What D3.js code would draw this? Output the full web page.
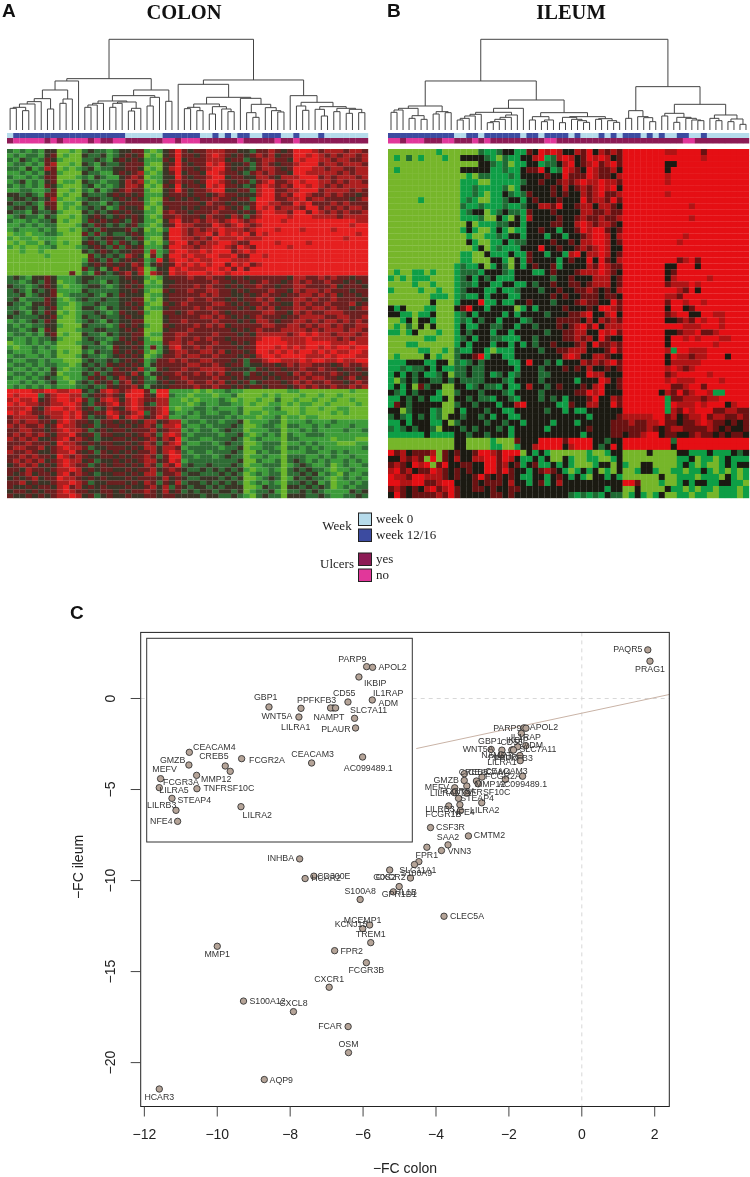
<!DOCTYPE html>
<html>
<head>
<meta charset="utf-8">
<script src="https://cdn.jsdelivr.net/npm/d3@7/dist/d3.min.js"></script>
<style>
html,body{margin:0;padding:0;background:#fff}
svg{display:block;filter:blur(0.4px)}
</style>
</head>
<body>
<svg id="chart" width="750" height="1177"></svg>
<script>
// ---------- DATA ----------
// heat levels: 0 light green … 3 neutral … 6 bright red
const colonRows = [
"21212133 0010 232212 3344 101 346 4344 555 443 32 445 434 6665 45554554",
"12122134 0100 322312 3434 010 346 4434 565 434 34 545 344 6656 54545545",
"21321243 1000 223213 4343 111 436 3444 555 344 23 455 443 6566 55455445",
"12212145 0010 321322 3444 100 346 4344 656 433 42 454 344 5666 45545554",
"22131254 0101 231223 3443 010 356 4434 566 434 32 455 434 6665 54554455",
"11212134 1000 322113 4345 101 346 3443 665 443 24 545 443 6655 55545455",
"21121244 0001 213211 3454 011 336 4344 566 344 33 554 355 5666 45455545",
"12312134 0110 322122 3545 101 345 4434 665 434 42 456 445 6566 55454554",
"21212143 1000 231212 3554 010 436 3443 656 443 23 565 454 6656 54545555",
"11221124 0010 213123 4544 100 346 4344 566 334 42 566 445 5666 45555454",
"33232144 0100 322234 3434 111 344 4344 345 443 33 566 454 6654 45454434",
"23323235 1001 233223 4343 100 434 3434 454 434 42 666 445 5645 54444345",
"32232144 0110 322132 3444 101 444 4443 544 343 34 665 544 6564 44545444",
"23323134 0101 232312 4334 010 344 3434 445 434 24 656 455 5466 45454554",
"32213223 1000 323234 3433 110 454 4344 454 443 43 566 554 6646 54545445",
"12322132 0010 234323 4343 101 445 4443 544 354 24 566 665 6665 55545555",
"21121223 0100 243434 3243 110 356 4454 554 565 45 666 656 6666 66666655",
"11212122 0001 324323 2342 101 346 5544 465 456 54 566 666 6666 66666566",
"12111212 0010 232433 3423 010 266 5454 556 555 45 666 566 6566 66566666",
"01101122 1000 424232 2343 111 366 5455 646 565 64 656 666 6666 66666656",
"10110111 0000 232343 3234 100 366 5545 465 556 55 566 666 6666 66665666",
"01011021 0100 343242 4323 010 256 6454 556 654 46 666 566 6656 66666666",
"10100112 0001 234324 2434 111 366 5545 566 546 54 666 665 6666 66666666",
"00100100 0000 323432 3344 151 256 6556 566 645 65 666 666 6666 66666666",
"00000010 0000 042323 2543 041 366 5655 665 564 46 656 666 6666 66666666",
"00000000 0000 143242 3434 126 356 6565 566 655 56 666 666 6666 66666666",
"00000000 0000 234343 4354 134 346 5656 566 465 64 566 666 6666 66666666",
"00000000 0000 423135 3345 013 365 6555 665 646 46 666 666 6666 66666666",
"00000000 0040 214323 4535 054 365 5666 566 566 66 666 666 6666 66666666",
"23213343 1112 332222 3433 101 344 4544 544 344 34 444 443 5544 54544344",
"22123243 0112 322132 3343 010 334 4444 454 434 43 454 434 5454 45443434",
"32212343 1011 233212 3434 111 344 4454 544 343 44 544 344 5544 44534443",
"23213234 1111 322222 3343 100 434 4544 554 434 34 445 443 5455 45444344",
"22312334 0122 232132 4333 011 344 4445 454 433 43 454 434 4554 54534434",
"23122243 1012 322322 3344 010 344 4544 544 343 44 545 344 5545 44544443",
"32213343 1101 223222 3434 100 434 5444 455 434 34 454 433 5454 45444534",
"22123234 1001 332132 3343 011 344 4454 544 443 43 545 344 5545 54544345",
"23213243 0101 223212 4334 100 443 4544 454 344 44 455 443 5454 45554444",
"32222334 1001 322322 3433 000 344 4445 545 434 34 544 434 4555 54455445",
"12123243 0001 232132 3344 000 344 5444 454 443 43 554 344 5545 45545454",
"21212233 1000 322212 4343 100 434 4454 545 344 44 455 445 5454 55454455",
"22123143 0001 223322 3434 000 344 4544 444 434 34 544 455 5545 45554554",
"12212134 0100 322132 3344 011 445 5444 454 443 43 555 554 5656 55455545",
"21121223 1000 232212 4343 100 445 4454 544 344 44 566 655 5565 55545455",
"01121212 0001 223123 3434 111 455 4544 454 434 34 666 665 5566 66555655",
"10112121 0000 322214 3343 141 356 4454 544 443 44 666 565 6566 56566566",
"21112112 0100 213224 3434 101 345 5445 545 344 34 665 656 5665 65655665",
"12211212 0001 322123 4343 012 445 4554 454 443 43 566 566 6655 56566655",
"21122121 1000 232232 3434 124 454 5445 544 434 24 456 655 5656 65565566",
"12212122 1101 323243 4343 134 444 4554 454 344 23 344 345 4554 44345445",
"21121213 1011 232324 3435 214 344 5445 555 433 32 434 434 4544 54434434",
"12212123 0111 324234 4353 133 445 4454 545 344 24 343 443 5454 44543443",
"21121232 1011 243423 5434 214 344 5444 454 434 34 434 344 4545 54434534",
"11212123 1102 324342 4534 223 434 4544 545 343 42 344 434 5454 45443454",
"12121212 1112 232243 4453 133 344 4454 454 434 34 434 443 4545 44544545",
"66665566 5566 323565 4566 416 611 1101 011 211 00 000 001 1000 00000100",
"65666245 6655 234454 3666 436 621 1011 101 120 00 010 100 0100 10010000",
"56556345 6656 423565 3565 445 511 0101 112 101 00 100 200 1001 00100100",
"65655445 5665 324456 4565 325 511 1012 112 211 01 001 101 0110 01000010",
"55564356 6565 342354 3565 445 610 1122 121 112 00 011 200 0100 10011000",
"65654455 5656 434465 4456 245 621 1212 112 212 01 101 110 0100 00101000",
"45555345 5656 423356 3565 346 511 2112 222 121 11 011 201 1011 00000000",
"45455443 5654 432443 4343 553 455 1221 221 223 01 112 201 1121 11211111",
"54544534 6554 342344 3434 542 556 2112 122 232 00 122 102 2112 12111211",
"44554434 5655 423434 4344 453 455 1212 212 322 01 112 201 1212 11112112",
"45454543 5564 342443 3434 542 565 2122 221 223 10 121 202 1122 21111111",
"54545334 5645 432334 4343 453 546 1221 122 232 01 211 102 2111 11011100",
"44454443 6554 343443 3434 542 456 2112 212 322 00 122 201 1212 11100011",
"45544534 5655 423344 4343 553 554 1222 221 223 01 122 102 2121 21111112",
"54454334 5564 342434 3434 453 565 2122 122 232 00 212 201 1122 11212111",
"44545443 6545 433443 4344 542 466 2212 212 322 01 121 102 2211 21211211",
"45454534 5655 342334 3434 553 465 1222 222 223 00 211 202 3212 12112121",
"34545343 5654 423434 4343 542 546 2322 322 232 01 122 201 2321 12012112",
"44354434 5565 343443 3434 453 454 3223 232 323 10 112 102 3232 21011211",
"43453443 5645 432334 4343 552 445 2332 223 232 01 212 202 2323 12102112",
"34345344 6554 343433 3434 443 534 3223 332 323 00 123 201 3232 21012121",
"44534334 5565 423344 4343 542 435 2332 323 232 01 212 102 2323 12011212",
"43343443 5645 343433 3433 453 524 3233 232 333 00 132 203 3232 32012122",
"34434344 5654 433443 4344 543 534 2323 323 323 01 223 102 2323 21111323",
"43343434 5565 342343 3433 443 443 3332 332 232 10 232 203 3322 32112232"
];
const ileumRows = [
"00000000100 000021123311 4365653354635454 666666655666646666666",
"01020100010 033332102113 3561256534656534 666666666666656666666",
"00000000000 000033212011 3312235634564564 666666633666666666666",
"01000000000 033333112113 4463126543654453 666666636666666666666",
"00000000000 001022111213 3334336444654435 666666656666666666666",
"00000000000 011100111112 3343345456556554 666666656666666666666",
"00000000000 011211112013 3333435345456563 666666666666666666666",
"00000000000 011210113212 4333434335456445 666666656666666666666",
"00000100000 012100112331 3433343336455464 666666666666666666666",
"00000000000 021121112112 3355463345535543 666666666665666666666",
"00000000000 012330123221 4333433335544544 666666666666666666666",
"00000000000 011120031031 5333343345445445 666666666665666666666",
"00000000000 003011122331 3333443356545543 666666666666666666666",
"00000000000 013100131011 3343313346566434 666666666666666666666",
"00000000000 001001121331 3331331334566535 666666666656666666666",
"00000000000 003100113122 3333433435566534 666666666566666666666",
"00000000000 000130121113 3363343345456533 666666666666666666666",
"00000000000 011003111311 4331331563556534 666666666666666666666",
"00000000000 011000331031 4333313433636435 666666666456466666666",
"00000000000 121130132031 3433413333546544 666666633666366666666",
"01001101000 122213332133 3113433345556543 666666634666666666666",
"10101110000 123132311133 3333233433355534 666666635666665666666",
"00001001000 122133113311 3233433443455534 666666645556566666666",
"10000100100 123331131123 3323343344543435 666666666546366666666",
"00000001110 121131333113 3333434334443443 666666655466666666666",
"00000003000 133361131133 4333233345443364 666666646656656666666",
"31300011000 346331333301 3133334333436654 666666636634666666666",
"33110113000 123133331313 3332333445633563 666666645663366556666",
"00130331000 121323313331 2333344443535454 666666633454656656666",
"01020303000 131133223313 3233343456463555 666666666655566656666",
"11013000100 132333133133 3332334455336564 666666633455644566666",
"00000011000 123133221113 3233334454536433 666666636656566655666",
"00011000000 131333133131 3233433345364454 666666636666666566666",
"00000110010 211331011133 3323344555333464 666666651665556666666",
"01000030100 233461331133 3333335653355433 666666636554556663666",
"11133311330 212323333113 6332313335454564 666666635555566666666",
"11212231311 223223333313 3323334343533434 666666656545666666666",
"13132311230 223223123123 3322333333655333 666666645666665666666",
"10232332232 322223332133 3323333313336534 666666656555666656666",
"13130423300 331232213113 5332343334356334 666666664456646666666",
"32132333100 233323332133 3323333344656333 666666354645665116666",
"11323231130 332322133213 3323231333463354 666666614455545566666",
"14323333300 233233313356 3333311433553364 666666616555656663566",
"33023331200 313332331133 3332331311333333 666666615465666445544",
"23213231203 323323133113 3333333333133334 555556645345564554454",
"11313331130 233332332331 3333133313333344 454455644344565443434",
"21232332033 323233323133 3331333333433344 444454345544445434334",
"11111131111 332332333133 3333333331333344 344566344334544343443",
"00000000000 330000100043 3366664666633233 666666662666666666666",
"00000000000 330000110013 3566663566632363 666666663666666666666",
"64534445043 433466546660 3131000000100133 000030000331113111323",
"33545406043 533556646531 1313003100110013 000000000113011013111",
"45436560463 344336645341 3411313100013303 100330000131010013133",
"56453446543 434336646433 1345431013130103 001331001101131010101",
"65546655543 433464343431 1331343131033131 000000300111011103101",
"66556644566 333434443533 1341353333333333 664000100131331133110",
"45434356456 433443433443 3333333333333133 003000031101011011101",
"36434444546 433333443433 3333333212121322 013101300110110011101"
];
const colonColors = ["#6cb52c","#3d9c3a","#2f6c35","#3a3526","#6b2020","#ac2020","#e62020"];
const ileumColors = ["#76b62a","#0e9e46","#1f6a33","#1b1a12","#6a1212","#b01415","#e50f14"];

// annotation tracks, column by column (0 / 1)
const colonWeek  = "0 111111111111111111 000000 111111 00 1 0 1 0 11 00 111 00 1 000 1 0000000";
const colonUlcer = "1 00000 1 0 1 0000 1 0 11 00 111111 00 1 000 111111 0 11111 0 11 0 11111111111";
const ileumWeek  = "11111111111 00 11 0 111111 0 11 0 1111 0 1 000 1 0 1 0 111 0 1 0 1 00 11 00 1 0000000";
const ileumUlcer = "00 1 000 111 00 111 0 1 0 111111111 00 111111111111111111111 00 111111111";

// dendrograms: [merge height, left, right]; 0 = leaf
const colonTree = [272,
  [154,
    [147,[120,[94,[85,[78,[68,[65,0,0],[58,0,0]],0],0],[63,0,0]],[93,[80,0,0],0]],0],
    [120,[103,[87,[80,[75,[68,0,0],0],0],[84,[80,[68,0,0],0],[65,[57,0,0],0]]],[98,[72,0,0],0]],[86,0,0]]
  ],
  [150,
    [137,0,[98,[78,[68,[64,0,0],[58,0,0]],[70,[48,0,0],[63,0,[55,0,0]]]],
               [95,0,[77,[52,0,[38,0,0]],[67,0,[58,0,[54,0,0]]]]]]],
    [103,0,[83,[72,0,[59,0,0]],[70,[62,0,[42,0,0]],[65,[55,0,0],[62,[50,0,0],[52,0,0]]]]]]
  ]
];
const ileumTree = [272,
  [147,
    [72,[65,[60,[53,0,0],0],[43,[35,0,0],[32,0,0]]],[55,[48,0,0],[52,0,0]]],
    [90,
      [65,[53,[47,[42,[35,[30,0,0],0],0],0],[45,[38,[32,[25,[22,0,0],0],0],0],0]],0],
      [52,[40,[30,0,0],[30,[25,0,0],0]],
          [40,[38,[22,0,0],[32,0,[28,0,[23,0,0]]]],[34,[32,0,0],[28,0,[23,0,0]]]]]
    ]
  ],
  [130,
    [58,[35,0,0],[40,0,[37,0,[25,0,0]]]],
    [77,[50,[42,0,0],[38,[23,0,0],[35,0,[30,0,[28,0,0]]]]],
        [45,[35,0,[28,0,0]],[33,[25,0,0],[17,0,0]]]]
  ]
];

// scatter
const genes = ["PARP9","APOL2","IKBIP","IL1RAP","CD55","ADM","PPFKFB3","NAMPT","GBP1","LILRA1","WNT5A","SLC7A11","PLAUR","CEACAM3","AC099489.1","FCGR2A","LILRA2","CEACAM4","GMZB","CREB5","MMP12","FCGR3A","MEFV","LILRA5","TNFRSF10C","STEAP4","LILRB3","NFE4","FCGR1B",
 "CSF3R","CMTM2","SAA2","VNN3","FPR1","SLC11A1","G0S2","S100A9","CXCR2","IL1B","GPR1D1","INHBA","HCAR2","CD300E","S100A8","CLEC5A","MCEMP1","KCNJ15","TREM1","FPR2","FCGR3B","CXCR1","MMP1","S100A12","CXCL8","FCAR","OSM","AQP9","HCAR3","PAQR5","PRAG1"];
const fcColon = [-1.587,-1.532,-1.658,-1.535,-1.759,-1.894,-1.919,-1.873,-2.487,-2.192,-2.211,-1.698,-1.689,-2.094,-1.624,-2.739,-2.745,-3.221,-3.225,-2.890,-2.844,-3.154,-3.486,-3.498,-3.151,-3.381,-3.344,-3.329,-3.65,
 -4.15,-3.11,-3.67,-3.85,-4.25,-4.47,-4.59,-4.70,-5.27,-5.01,-5.17,-7.74,-7.59,-7.35,-6.08,-3.78,-5.82,-6.01,-5.79,-6.78,-5.91,-6.93,-10.0,-9.28,-7.91,-6.41,-6.40,-8.71,-11.59,1.81,1.87];
const fcIleum = [-1.612,-1.632,-1.916,-2.592,-2.651,-2.827,-2.827,-2.827,-2.798,-2.837,-3.092,-3.131,-3.415,-4.444,-4.268,-4.317,-5.728,-4.130,-4.503,-4.532,-4.689,-4.807,-4.905,-5.169,-5.199,-5.483,-5.835,-6.159,-5.90,
 -7.09,-7.55,-8.04,-8.35,-8.17,-8.96,-9.12,-9.86,-9.42,-10.33,-10.62,-8.81,-9.89,-9.76,-11.04,-11.96,-12.44,-12.64,-13.41,-13.85,-14.51,-15.86,-13.61,-16.62,-17.20,-18.02,-19.45,-20.93,-21.45,2.67,2.05];
const fitLineX = [-4.54,2.40];
const fitLineY = [-2.75,0.22];
const xTicks = [-12,-10,-8,-6,-4,-2,0,2];
const yTicks = [0,-5,-10,-15,-20];
const weekLabels = ["week 0","week 12/16"];
const ulcerLabels = ["yes","no"];

// ---------- LABEL PLACEMENT (offset from point, px) ----------
const mainLabelOffset = {PARP9:[-16.7,-.3],APOL2:[18,-1],IKBIP:[-4,7],IL1RAP:[0,-8.7],CD55:[-6,-4.7],ADM:[20.5,-4.7],PPFKFB3:[1.4,7.7],NAMPT:[-17,4.7],GBP1:[-1.3,-9],LILRA1:[0,11.7],WNT5A:[-23,-5.6],SLC7A11:[18,-6.3],PLAUR:[-17,-4],CEACAM3:[1,-8.8],"AC099489.1":[0,7.7],FCGR2A:[21,-1],LILRA2:[3,7.5],CEACAM4:[25,-2],GMZB:[-18,-.6],CREB5:[-3,-9],MMP12:[12,0],FCGR3A:[-9,5],MEFV:[-17.7,-1],LILRA5:[-9.5,0],TNFRSF10C:[18,-1.3],STEAP4:[18.6,-.6],LILRB3:[-20,4.5],NFE4:[3,1.7],FCGR1B:[-5.3,8],
 CSF3R:[20,-1],CMTM2:[21,-.7],SAA2:[0,-8.3],VNN3:[18,0],FPR1:[0,7.7],SLC11A1:[-1,8],G0S2:[-30,12],S100A9:[6,-5.3],CXCR2:[1,7],IL1B:[8.7,5.3],GPR1D1:[6,2.3],INHBA:[-19,-1],HCAR2:[21,-1],CD300E:[20,-.7],S100A8:[0,-8.7],CLEC5A:[23,-.7],MCEMP1:[-7,-5],KCNJ15:[-11.7,-4.7],TREM1:[0,-8.3],FPR2:[17,0],FCGR3B:[0,7.7],CXCR1:[0,-8.3],MMP1:[0,7.7],S100A12:[24,0],CXCL8:[0,-8.7],FCAR:[-18,-.7],OSM:[0,-8.3],AQP9:[17,0],HCAR3:[0,8],PAQR5:[-20,-1],PRAG1:[0,7.7]};
const insetLabelOffset = {PARP9:[-14.3,-7.7],APOL2:[20,0],IKBIP:[16.3,5.7],IL1RAP:[16,-7.3],CD55:[-3.7,-8.7],ADM:[55,-4.7],PPFKFB3:[-14,-7.7],NAMPT:[-6.7,9.3],GBP1:[-3.3,-9.7],LILRA1:[-5.3,19],WNT5A:[-22,-1],SLC7A11:[14,-8],PLAUR:[-19.7,1.3],CEACAM3:[1,-8.7],"AC099489.1":[5.7,11.3],FCGR2A:[25.3,1.3],LILRA2:[16.3,8],CEACAM4:[25,-5.7],GMZB:[-16.3,-5],CREB5:[-11.3,-10],MMP12:[-14,8],FCGR3A:[-15.7,7],MEFV:[4,-9.7],LILRA5:[14.7,2.3],TNFRSF10C:[32,-.7],STEAP4:[22.3,1.7],LILRB3:[-14.3,-5.3],NFE4:[-16.3,0]};

// ---------- DRAW ----------
const strip = s=>s.replace(/ /g,"");
const svg = d3.select("#chart");
const serif = "'Liberation Serif',serif", sans = "'Liberation Sans',sans-serif";
const trackColors = {week:["#b6dbeb","#3c4ba0"], ulcer:["#e1379a","#8c1b55"]};

function panel(cfg){
  const rows = cfg.rows.map(strip);
  const nCol = rows[0].length;
  const x = d3.scaleBand().domain(d3.range(nCol)).range(cfg.xRange);
  const y = d3.scaleBand().domain(d3.range(rows.length)).range([149,498]);
  const colour = d3.scaleOrdinal().domain(d3.range(7)).range(cfg.colors);
  const g = svg.append("g");
  // heat map
  const cells = rows.flatMap((r,i)=>Array.from(r,(c,j)=>({i,j,v:+c})));
  g.append("g").selectAll("rect").data(cells).join("rect")
    .attr("x",d=>x(d.j)).attr("y",d=>y(d.i))
    .attr("width",x.bandwidth()+.2).attr("height",y.bandwidth()+.2)
    .attr("fill",d=>colour(d.v));
  // tracks
  g.append("g").selectAll("rect").data(Array.from(strip(cfg.week))).join("rect")
    .attr("x",(d,j)=>x(j)).attr("y",133).attr("width",x.bandwidth()+.2).attr("height",5)
    .attr("fill",d=>trackColors.week[+d]);
  g.append("g").selectAll("rect").data(Array.from(strip(cfg.ulcer))).join("rect")
    .attr("x",(d,j)=>x(j)).attr("y",138).attr("width",x.bandwidth()+.2).attr("height",5.5)
    .attr("fill",d=>trackColors.ulcer[+d]);
  // dendrogram
  const h = d3.scaleLinear().domain([0,272]).range([130,39.3]);
  const root = d3.hierarchy(cfg.tree,d=>Array.isArray(d)?d.slice(1):null);
  root.leaves().forEach((l,j)=>{l.px=x(j)+x.bandwidth()/2;});
  root.eachAfter(n=>{
    if(n.children) n.px=(n.children[0].px+n.children[1].px)/2;
    n.py=h(n.children?n.data[0]:0);
  });
  g.append("g").selectAll("path").data(root.descendants().filter(n=>n.children)).join("path")
    .attr("fill","none").attr("stroke","#444").attr("stroke-width",1)
    .attr("d",n=>{const [a,b]=n.children;
      return d3.line()([[a.px,a.py],[a.px,n.py],[b.px,n.py],[b.px,b.py]]);});
  // title
  g.append("text").attr("x",cfg.titleX).attr("y",19).attr("text-anchor","middle")
    .attr("font-family",serif).attr("font-weight","bold").attr("font-size",20.5).attr("fill","#111").text(cfg.title);
  g.append("text").attr("x",cfg.letterX).attr("y",17).attr("font-family",sans).attr("font-weight","bold")
    .attr("font-size",19).attr("fill","#111").text(cfg.letter);
}
panel({rows:colonRows,colors:colonColors,xRange:[7,368],week:colonWeek,ulcer:colonUlcer,tree:colonTree,title:"COLON",titleX:184,letter:"A",letterX:2});
panel({rows:ileumRows,colors:ileumColors,xRange:[388,749],week:ileumWeek,ulcer:ileumUlcer,tree:ileumTree,title:"ILEUM",titleX:571,letter:"B",letterX:387});

// legend
const legend = svg.append("g").attr("font-family",serif).attr("fill","#222");
const legendRows = [
  {label:weekLabels[0],fill:trackColors.week[0],y:513},
  {label:weekLabels[1],fill:trackColors.week[1],y:529},
  {label:ulcerLabels[0],fill:trackColors.ulcer[1],y:553},
  {label:ulcerLabels[1],fill:trackColors.ulcer[0],y:569}];
legend.selectAll("rect").data(legendRows).join("rect")
  .attr("x",358.5).attr("y",d=>d.y).attr("width",13).attr("height",12.5)
  .attr("fill",d=>d.fill).attr("stroke","#222").attr("stroke-width",1);
legend.selectAll("text.l").data(legendRows).join("text").attr("class","l")
  .attr("x",376).attr("y",d=>d.y+9.5).attr("font-size",13).attr("fill","#222").text(d=>d.label);
legend.append("text").attr("x",337).attr("y",530).attr("text-anchor","middle").attr("font-size",13).text("Week");
legend.append("text").attr("x",337).attr("y",568).attr("text-anchor","middle").attr("font-size",13).text("Ulcers");

// scatter
const pts = genes.map((g,i)=>({g,x:fcColon[i],y:fcIleum[i]}));
const X = d3.scaleLinear().domain([-12.10,2.40]).range([140.7,669.3]);
const Y = d3.scaleLinear().domain([-22.41,3.63]).range([1106.5,632.4]);
const XI = d3.scaleLinear().domain([-3.614,-1.166]).range([146.7,412.3]);
const YI = d3.scaleLinear().domain([-6.766,-0.779]).range([842,638.3]);
const scatter = svg.append("g");
scatter.append("line").attr("x1",X(0)).attr("x2",X(0)).attr("y1",Y.range()[1]).attr("y2",Y.range()[0])
  .attr("stroke","#d8d8d8").attr("stroke-dasharray","4 4").attr("stroke-width",1);
scatter.append("line").attr("x1",X.range()[0]).attr("x2",X.range()[1]).attr("y1",Y(0)).attr("y2",Y(0))
  .attr("stroke","#d8d8d8").attr("stroke-dasharray","4 4").attr("stroke-width",1);
scatter.append("line").attr("x1",X(fitLineX[0])).attr("x2",X(fitLineX[1])).attr("y1",Y(fitLineY[0])).attr("y2",Y(fitLineY[1]))
  .attr("stroke","#c9b3a6").attr("stroke-width",1);

function dots(parent,data,sx,sy,off){
  parent.append("g").selectAll("circle").data(data).join("circle")
    .attr("cx",d=>sx(d.x)).attr("cy",d=>sy(d.y)).attr("r",3.2)
    .attr("fill","#b5a498").attr("stroke","#333").attr("stroke-width",.9);
  parent.append("g").selectAll("text").data(data).join("text")
    .attr("x",d=>sx(d.x)+off[d.g][0]).attr("y",d=>sy(d.y)+off[d.g][1]).attr("dy",".35em")
    .attr("text-anchor","middle").attr("font-family",sans).attr("font-size",8.8).attr("fill","#333").text(d=>d.g);
}
dots(scatter,pts,X,Y,mainLabelOffset);

// inset
const inset = svg.append("g");
inset.append("rect").attr("x",146.7).attr("y",638.3).attr("width",265.6).attr("height",203.7)
  .attr("fill","#fff").attr("stroke","#333").attr("stroke-width",1);
const inData = pts.filter(p=>insetLabelOffset[p.g]);
dots(inset,inData,XI,YI,insetLabelOffset);

// frame and axes
scatter.append("rect").attr("x",140.7).attr("y",632.4).attr("width",528.6).attr("height",474.1)
  .attr("fill","none").attr("stroke","#222").attr("stroke-width",1);
const xAxis = svg.append("g").attr("transform","translate(0,1106.5)")
  .call(d3.axisBottom(X).tickValues(xTicks).tickSize(10).tickPadding(13).tickFormat(d3.format("d")).offset(0));
const yAxis = svg.append("g").attr("transform","translate(140.7,0)")
  .call(d3.axisLeft(Y).tickValues(yTicks).tickSize(10).tickPadding(8).tickFormat(d3.format("d")).offset(0));
[xAxis,yAxis].forEach(a=>{
  a.select(".domain").remove();
  a.selectAll("line").attr("stroke","#444");
  a.selectAll("text").attr("font-family",sans).attr("font-size",14).attr("fill","#222");
});
yAxis.selectAll(".tick text").attr("transform","rotate(-90)").attr("x",0).attr("y",-26).attr("dy",0).attr("text-anchor","middle");
svg.append("text").attr("x",405).attr("y",1173).attr("text-anchor","middle").attr("font-family",sans).attr("font-size",14).attr("fill","#222").text("−FC colon");
svg.append("text").attr("transform","translate(83,867) rotate(-90)").attr("text-anchor","middle").attr("font-family",sans).attr("font-size",14).attr("fill","#222").text("−FC ileum");
svg.append("text").attr("x",70).attr("y",619).attr("font-family",sans).attr("font-weight","bold").attr("font-size",19).attr("fill","#111").text("C");
</script>
</body>
</html>
